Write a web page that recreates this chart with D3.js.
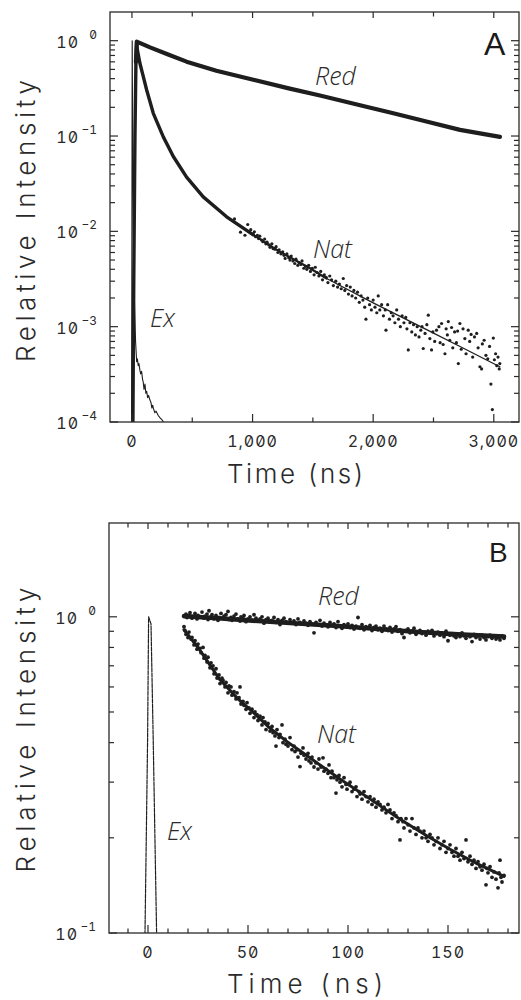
<!DOCTYPE html>
<html>
<head>
<meta charset="utf-8">
<script src="https://cdn.jsdelivr.net/npm/d3@7"></script>
<style>
body { margin: 0; background: #fff; }
text { font-family: Inter, "DejaVu Sans", sans-serif; font-feature-settings: "zero" 1, "tnum" 1; fill: #2a2a2a; }
.curve { font-family: "Open Sans", sans-serif; font-style: italic; font-weight: 300; font-feature-settings: normal; }
.panel { font-family: "Liberation Sans", Arial, sans-serif; font-feature-settings: normal; fill: #1a1a1a; }
</style>
</head>
<body>
<script>
// ---- panel A : 0 - 3000 ns, log intensity ----
var aTimeTicks = [0, 1000, 2000, 3000];
var aTimeLabels = ["0", "1,000", "2,000", "3,000"];
var aTimeMinor = [500, 1500, 2500];
var aDecades = [1e-4, 1e-3, 1e-2, 1e-1, 1];
var aDecadeExp = ["\u22124", "\u22123", "\u22122", "\u22121", "0"];

// reduced sample, dense trace
var aRed = [[33,0.6],[40,0.977],[150,0.851],[300,0.716],[453,0.603],[700,0.484],[1006,0.389],[1300,0.316],
  [1559,0.266],[1900,0.209],[2167,0.173],[2450,0.141],[2720,0.116],[3051,0.098]];

// native sample, fitted curve (rise included)
var aNatFit = [[8,1e-4],[15,0.003],[25,0.1],[33,0.6],[39,0.93],[45,0.8],[66,0.58],[90,0.44],[122,0.304],
  [177,0.173],[260,0.098],[343,0.061],[453,0.037],[591,0.023],[785,0.0142],[1006,0.0092],[1227,0.0061],
  [1476,0.0041],[1614,0.0032],[2000,0.00178],[2443,0.00093],[2720,0.00062],[3050,0.00038]];

// native sample, scattered points in the tail
var aNatDots = [[850,0.0135],[900,0.0098],[937,0.0091],[960,0.0118],[985,0.0104],
  [1005,0.0094],[1015,0.0099],[1025,0.0088],[1040,0.0091],[1050,0.0084],[1060,0.0089],[1075,0.0081],[1085,0.0078],
  [1100,0.0083],[1110,0.0074],[1120,0.0077],[1135,0.0072],[1145,0.0068],[1160,0.0074],[1170,0.0066],[1185,0.0065],
  [1195,0.0069],[1210,0.0060],[1220,0.0064],[1235,0.0058],[1250,0.0061],[1260,0.0056],[1270,0.0052],[1285,0.0058],
  [1300,0.0053],[1310,0.0050],[1320,0.0055],[1335,0.0049],[1350,0.0046],[1360,0.0051],[1375,0.0044],[1385,0.0047],
  [1400,0.0045],[1410,0.0049],[1425,0.0041],[1440,0.0043],[1450,0.0040],[1465,0.0044],[1480,0.0038],[1495,0.0041],
  [1510,0.0035],[1520,0.0042],[1535,0.0037],[1550,0.0034],[1565,0.0038],[1580,0.0031],[1595,0.0035],[1610,0.0033],
  [1625,0.0029],[1640,0.0034],[1655,0.0031],[1670,0.0027],[1690,0.0030],[1705,0.0026],[1720,0.0028],[1735,0.0025],
  [1752,0.0032],[1765,0.0024],[1780,0.0027],[1795,0.0022],[1810,0.0026],[1825,0.0021],[1840,0.0024],[1855,0.0020],
  [1870,0.0023],[1885,0.0018],[1900,0.0021],[1915,0.0019],[1930,0.0016],[1940,0.0012],[1955,0.0020],[1970,0.0017],
  [1985,0.0015],[2000,0.0019],[2015,0.0016],[2030,0.0014],[2042,0.0021],[2055,0.0015],[2070,0.0017],[2085,0.0013],
  [2100,0.0015],[2106,0.00092],[2120,0.0017],[2135,0.0012],[2150,0.0014],[2165,0.0013],[2180,0.0011],[2195,0.0015],
  [2210,0.0012],[2225,0.0010],[2240,0.0013],[2255,0.0011],[2270,0.00125],[2280,0.00095],[2291,0.00057],[2305,0.0011],
  [2320,0.00088],[2335,0.00105],[2350,0.00082],[2365,0.0010],[2380,0.00078],[2395,0.00092],[2405,0.0010],[2415,0.00059],
  [2430,0.00085],[2445,0.00105],[2457,0.00132],[2470,0.00075],[2484,0.00057],[2495,0.00088],[2510,0.00070],[2525,0.00092],
  [2545,0.00100],[2555,0.00068],[2567,0.00108],[2580,0.00065],[2595,0.00052],[2605,0.00095],[2615,0.00082],[2623,0.00113],
  [2635,0.00072],[2650,0.00098],[2660,0.00060],[2675,0.00088],[2690,0.00068],[2700,0.00090],[2706,0.00041],[2719,0.00108],
  [2730,0.00058],[2745,0.00095],[2760,0.00075],[2770,0.00052],[2788,0.00092],[2800,0.00070],[2812,0.00083],[2825,0.00048],
  [2840,0.00078],[2858,0.00085],[2870,0.00060],[2885,0.00038],[2899,0.00036],[2905,0.00066],[2920,0.00072],[2935,0.00050],
  [2950,0.00046],[2965,0.00062],[2976,0.00025],[2988,0.000135],[2996,0.00076],[3005,0.00045],[3015,0.00052],[3025,0.00039],
  [3035,0.00048],[3045,0.00036],[3050,0.00041]];

// excitation pulse
var aEx = [[-3,1e-4],[0,0.02],[2,1.0],[6,0.1],[12,0.01],[20,0.002],[30,7e-4],[39,4.3e-4],[45,4.6e-4],[52,3.9e-4],
  [58,4.1e-4],[66,3.5e-4],[72,3.2e-4],[80,3.4e-4],[88,2.8e-4],[94,2.6e-4],[100,2.2e-4],[108,2.5e-4],[115,2.0e-4],
  [122,2.1e-4],[130,1.8e-4],[138,1.9e-4],[149,1.7e-4],[158,1.6e-4],[165,1.4e-4],[172,1.5e-4],[177,1.4e-4],
  [190,1.25e-4],[200,1.3e-4],[218,1.17e-4],[235,1.1e-4],[250,1.05e-4],[262,1.0e-4],[270,0.95e-4]];

// ---- panel B : 0 - 180 ns ----
var bTimeTicks = [0, 50, 100, 150];
var bTimeLabels = ["0", "50", "100", "150"];
var bTimeMinor = [-10, 10, 20, 30, 40, 60, 70, 80, 90, 110, 120, 130, 140, 160, 170, 180];
var bDecades = [0.1, 1];
var bDecadeExp = ["\u22121", "0"];

var bRedFit = [[18,1.005],[35,0.99],[55,0.97],[75,0.952],[95,0.935],[115,0.915],[135,0.895],[155,0.88],[178,0.866]];
var bRedDots = [[19,1.02],[19.5,0.995],[20.5,1.01],[21,1.03],[22,0.99],[23,1.0],[23.5,1.025],[24.5,0.985],[25,1.01],
  [26,1.0],[27,1.035],[28,0.99],[28.5,1.005],[29.5,1.02],[30,0.98],[30.5,1.045],[31.5,1.0],[32,1.015],[33,0.985],
  [34,1.01],[35,0.975],[35.5,0.995],[36.5,1.025],[37,0.99],[38,1.005],[39,1.015],[40,1.04],[40.5,0.98],[41.5,0.995],
  [42,0.975],[43,1.005],[44,1.02],[45,0.985],[46,0.97],[46.5,1.0],[47.5,0.99],[48,1.01],[49,0.965],[50,0.985],[51,1.0],
  [52,0.975],[53,1.015],[54,0.99],[55,0.97],[56,0.985],[57,1.0],[58,0.955],[59,0.98],[60,0.99],[61,0.97],[62,0.975],
  [63,0.995],[64,0.96],[65,0.98],[66,0.945],[67,0.975],[68,0.99],[69,0.965],[70,0.955],[71,0.98],[72,0.96],[73,0.97],
  [74,0.945],[75,0.985],[76,0.96],[77,0.95],[78,0.97],[79,0.955],[80,0.94],[81,0.965],[82,0.95],[83,0.89],[84,0.96],
  [85,0.945],[86,0.975],[87,0.935],[88,0.955],[89,0.945],[90,0.93],[91,0.96],[92,0.94],[93,0.95],[94,0.925],[95,0.965],
  [96,0.935],[97,0.92],[98,0.945],[99,0.93],[100,0.95],[101,0.925],[102,0.94],[103,0.915],[104,0.935],[105,0.995],
  [106,0.92],[107,0.945],[108,0.91],[109,0.93],[110,0.92],[111,0.94],[112,0.905],[113,0.925],[114,0.935],[115,0.91],
  [116,0.92],[117,0.9],[118,0.935],[119,0.915],[120,0.905],[121,0.925],[122,0.895],[123,0.915],[124,0.93],[125,0.9],
  [126,0.91],[127,0.885],[128,0.86],[129,0.905],[130,0.915],[131,0.89],[132,0.9],[133,0.92],[134,0.88],[135,0.895],
  [136,0.905],[137,0.885],[138,0.895],[139,0.875],[140,0.9],[141,0.89],[142,0.905],[143,0.87],[144,0.885],[145,0.895],
  [146,0.875],[147,0.89],[148,0.865],[149,0.9],[150,0.84],[151,0.875],[152,0.885],[153,0.87],[154,0.86],[155,0.88],
  [156,0.865],[157,0.89],[158,0.87],[159,0.855],[160,0.875],[161,0.865],[162,0.835],[163,0.88],[164,0.86],[165,0.87],
  [166,0.85],[167,0.875],[168,0.86],[169,0.845],[170,0.865],[171,0.875],[172,0.855],[173,0.87],[174,0.85],[175,0.86],
  [176,0.845],[177,0.87],[178,0.855]];

var bNatFit = [[18,0.91],[25,0.80],[36,0.632],[45,0.55],[53,0.496],[60,0.45],[69,0.405],[76,0.377],[86,0.340],
  [96,0.307],[110,0.268],[126,0.229],[140,0.202],[151,0.184],[165,0.165],[178,0.151]];
var bNatDots = [[18,0.93],[18.5,0.905],[19,0.88],[20,0.86],[20.5,0.895],[21.5,0.85],[22,0.86],[23,0.815],[23.5,0.84],
  [24.5,0.79],[25,0.82],[26,0.795],[26.5,0.77],[27.5,0.80],[28,0.74],[28.5,0.755],[29.5,0.72],[30,0.745],[31,0.69],
  [31.5,0.715],[32.5,0.70],[33,0.66],[34,0.685],[34.5,0.64],[35.5,0.655],[36,0.615],[37,0.64],[37.5,0.63],[38.5,0.60],
  [39,0.62],[40,0.575],[40.5,0.605],[41.5,0.60],[42,0.565],[43,0.58],[44,0.55],[44.5,0.575],[45.5,0.555],[46,0.60],
  [46.5,0.53],[47.5,0.54],[48,0.525],[49,0.51],[49.5,0.535],[50.5,0.515],[51,0.495],[52,0.51],[53,0.48],[53.5,0.50],
  [54.5,0.49],[55,0.47],[56,0.485],[57,0.455],[57.5,0.48],[58.5,0.465],[59,0.44],[60,0.46],[61,0.435],[62,0.45],
  [62.5,0.43],[63.5,0.42],[64,0.39],[64.5,0.44],[65.5,0.415],[66,0.425],[67,0.455],[67.5,0.40],[68.5,0.41],[69,0.395],
  [70,0.39],[71,0.415],[72,0.38],[73,0.39],[73.5,0.375],[74.5,0.38],[75,0.36],[76,0.336],[76.5,0.37],[77.5,0.385],
  [78,0.365],[79,0.355],[80,0.37],[80.5,0.35],[81.5,0.345],[82,0.36],[83,0.335],[84,0.345],[85,0.33],[85.5,0.355],
  [86.5,0.335],[87.5,0.358],[88,0.325],[89,0.33],[90,0.32],[90.5,0.34],[91.5,0.31],[92,0.325],[93,0.31],[94,0.277],
  [94.5,0.305],[95.5,0.315],[96,0.30],[97,0.29],[98,0.31],[99,0.295],[99.5,0.285],[100.5,0.295],[101,0.30],[102,0.28],
  [103,0.285],[104,0.29],[104.5,0.27],[105.5,0.28],[106,0.275],[107,0.265],[108,0.28],[109,0.27],[110,0.26],[111,0.27],
  [112,0.255],[113,0.265],[114,0.25],[115,0.26],[116,0.255],[117,0.245],[118,0.25],[119,0.24],[120,0.255],[121,0.245],
  [122,0.23],[123,0.24],[124,0.235],[125,0.225],[126,0.197],[126.5,0.23],[127.5,0.225],[128,0.215],[129,0.23],[130,0.22],
  [131,0.21],[132,0.23],[133,0.215],[134,0.205],[135,0.215],[136,0.21],[137,0.20],[138,0.21],[139,0.2],[140,0.195],
  [141,0.205],[142,0.2],[143,0.19],[144,0.195],[145,0.2],[146,0.185],[147,0.19],[148,0.195],[149,0.18],[150,0.185],
  [151,0.19],[152,0.18],[153,0.175],[154,0.185],[155,0.175],[156,0.17],[157,0.18],[158,0.172],[159,0.197],[160,0.168],
  [161,0.175],[162,0.165],[163,0.17],[164,0.16],[165,0.168],[166,0.162],[167,0.158],[168,0.165],[169,0.142],[169.5,0.16],
  [170,0.155],[171,0.162],[172,0.15],[173,0.156],[174,0.148],[175,0.139],[175.5,0.155],[176,0.17],[176.5,0.15],[177,0.145],
  [178,0.152]];

var bEx = [[-1.8,0.085],[-1.5,0.1],[-0.2,0.41],[0.3,1.0],[1.5,0.95],[2.6,0.41],[4.3,0.1],[4.6,0.085]];

var svg = d3.select("body").append("svg")
  .attr("width", 521)
  .attr("height", 1000);

var ink = "#1e1e1e";

function makePanel(p) {
  var x = d3.scaleLinear().domain(p.xDomain).range([p.left, p.right]);
  var y = d3.scaleLog().domain(p.yDomain).range([p.bottom, p.top]);
  var g = svg.append("g");

  svg.append("clipPath").attr("id", "clip" + p.name)
    .append("rect")
    .attr("x", p.left).attr("y", p.top)
    .attr("width", p.right - p.left).attr("height", p.bottom - p.top);

  var plot = g.append("g").attr("clip-path", "url(#clip" + p.name + ")");

  // frame
  g.append("rect")
    .attr("x", p.left).attr("y", p.top)
    .attr("width", p.right - p.left).attr("height", p.bottom - p.top)
    .attr("fill", "none").attr("stroke", "#2a2a2a").attr("stroke-width", 1.3);

  // x ticks, bottom and top, pointing inward
  function xTick(vals, len) {
    vals.forEach(function(v) {
      g.append("line").attr("x1", x(v)).attr("x2", x(v)).attr("y1", p.bottom).attr("y2", p.bottom - len)
        .attr("stroke", "#2a2a2a").attr("stroke-width", 1.2);
      g.append("line").attr("x1", x(v)).attr("x2", x(v)).attr("y1", p.top).attr("y2", p.top + Math.min(len, 6))
        .attr("stroke", "#2a2a2a").attr("stroke-width", 1.2);
    });
  }
  xTick(p.xTicks, 8);
  xTick(p.xMinor, 4.5);

  g.selectAll(null).data(p.xTicks).enter().append("text")
    .attr("x", function(d) { return x(d); })
    .attr("y", p.bottom + 25)
    .attr("text-anchor", "middle")
    .attr("font-size", 16)
    .attr("letter-spacing", 1)
    .text(function(d, i) { return p.xLabels[i]; });

  // y ticks, left and right, pointing inward
  function yTick(vals, len) {
    vals.forEach(function(v) {
      g.append("line").attr("x1", p.left).attr("x2", p.left + len).attr("y1", y(v)).attr("y2", y(v))
        .attr("stroke", "#2a2a2a").attr("stroke-width", 1.2);
      g.append("line").attr("x1", p.right).attr("x2", p.right - len).attr("y1", y(v)).attr("y2", y(v))
        .attr("stroke", "#2a2a2a").attr("stroke-width", 1.2);
    });
  }
  var minor = y.ticks().filter(function(v) {
    return v < 1 && v > p.decades[0] && Math.abs(Math.log10(v) - Math.round(Math.log10(v))) > 1e-6;
  });
  yTick(p.decades, 8);
  yTick(minor, 5);

  p.decades.forEach(function(v, i) {
    g.append("text").attr("x", p.left - 31).attr("y", y(v) + 7)
      .attr("text-anchor", "end").attr("font-size", 16).attr("letter-spacing", 1).text("10");
    g.append("text").attr("x", p.left - 13).attr("y", y(v) - 2)
      .attr("text-anchor", "end").attr("font-size", 12).text(p.decadeExp[i]);
  });

  // axis titles
  g.append("text")
    .attr("x", p.timeTitle[0]).attr("y", p.timeTitle[1])
    .attr("font-size", 26).attr("font-weight", 300)
    .attr("textLength", p.timeTitle[2]).attr("lengthAdjust", "spacing")
    .text("Time (ns)");
  g.append("text")
    .attr("transform", "translate(35," + p.yTitle[0] + ") rotate(-90)")
    .attr("text-anchor", "middle")
    .attr("font-size", 26).attr("font-weight", 300)
    .attr("textLength", p.yTitle[1]).attr("lengthAdjust", "spacing")
    .text("Relative Intensity");

  return { x: x, y: y, g: g, plot: plot };
}

function trace(panel, data, w, dash) {
  var line = d3.line()
    .x(function(d) { return panel.x(d[0]); })
    .y(function(d) { return panel.y(d[1]); });
  return panel.plot.append("path")
    .attr("d", line(data))
    .attr("fill", "none")
    .attr("stroke", ink)
    .attr("stroke-width", w)
    .attr("stroke-linejoin", "round")
    .attr("stroke-linecap", "round")
    .attr("stroke-dasharray", dash || null);
}

function dots(panel, data, r) {
  panel.plot.selectAll(null).data(data).enter().append("circle")
    .attr("cx", function(d) { return panel.x(d[0]); })
    .attr("cy", function(d) { return panel.y(d[1]); })
    .attr("r", r)
    .attr("fill", ink);
}

function label(g, txt, x, y, size, cls) {
  g.append("text").attr("class", cls).attr("x", x).attr("y", y).attr("font-size", size).text(txt);
}

// ---------- panel A ----------
var A = makePanel({
  name: "A", left: 110, right: 519, top: 12, bottom: 422,
  xDomain: [-182, 3209], yDomain: [1e-4, 2.0],
  xTicks: aTimeTicks, xLabels: aTimeLabels, xMinor: aTimeMinor,
  decades: aDecades, decadeExp: aDecadeExp,
  timeTitle: [227, 483, 137], yTitle: [221, 282]
});

trace(A, aEx, 1.1);
trace(A, aNatFit, 1.3);
trace(A, aNatFit.filter(function(d) { return d[0] <= 1006; }), 3.4);
trace(A, aNatFit.filter(function(d) { return d[0] >= 785 && d[0] <= 1614; }), 2.2);
trace(A, aRed, 4.2);
dots(A, aNatDots, 1.6);

label(A.g, "Red", 315, 85, 25, "curve");
label(A.g, "Nat", 313, 258, 25, "curve");
label(A.g, "Ex", 150, 327, 25, "curve");
label(A.g, "A", 484, 55, 32, "panel");

// ---------- panel B ----------
var B = makePanel({
  name: "B", left: 109, right: 519, top: 523, bottom: 933,
  xDomain: [-19.5, 185.5], yDomain: [0.1, 1.98],
  xTicks: bTimeTicks, xLabels: bTimeLabels, xMinor: bTimeMinor,
  decades: bDecades, decadeExp: bDecadeExp,
  timeTitle: [227, 993, 157], yTitle: [730, 285]
});

trace(B, bEx, 1.2, "4,1.2");
trace(B, bRedFit, 4.6);
dots(B, bRedDots, 1.9);
trace(B, bNatFit, 3);
dots(B, bNatDots, 1.9);

label(B.g, "Red", 318, 605, 25, "curve");
label(B.g, "Nat", 317, 743, 25, "curve");
label(B.g, "Ex", 167, 840, 25, "curve");
label(B.g, "B", 489, 562, 28, "panel");
</script>
</body>
</html>
